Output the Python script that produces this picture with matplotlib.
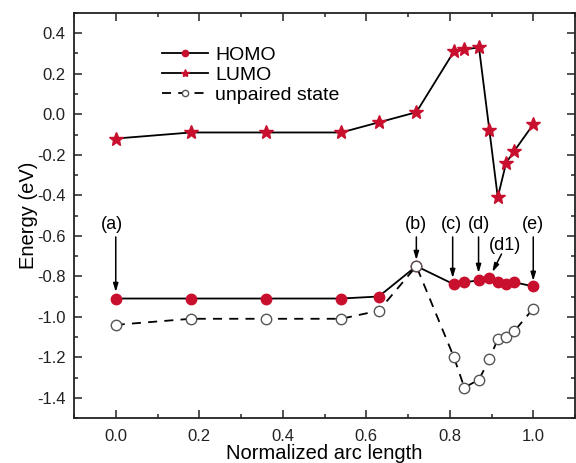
import matplotlib
matplotlib.use("Agg")
import matplotlib.pyplot as plt
from matplotlib.ticker import MultipleLocator

plt.rcParams['font.family'] = ['Liberation Sans', 'DejaVu Sans']

# Normalized arc length along the path
arc = [0.0, 0.18, 0.36, 0.54, 0.63, 0.72, 0.81, 0.835, 0.87, 0.895, 0.915, 0.935, 0.955, 1.0]

# Energies (eV)
homo = [-0.91, -0.91, -0.91, -0.91, -0.90, -0.75, -0.84, -0.83, -0.82, -0.81, -0.83, -0.84, -0.83, -0.85]
lumo = [-0.12, -0.09, -0.09, -0.09, -0.04, 0.01, 0.31, 0.32, 0.33, -0.08, -0.41, -0.24, -0.18, -0.05]
unpaired = [-1.04, -1.01, -1.01, -1.01, -0.97, -0.75, -1.20, -1.35, -1.31, -1.21, -1.11, -1.10, -1.07, -0.96]

# Labelled configurations: (label, text position, arrow tip)
labels = ["(a)", "(b)", "(c)", "(d)", "(e)", "(d1)"]
label_xy = [(-0.01, -0.545), (0.72, -0.545), (0.805, -0.545), (0.87, -0.545), (1.0, -0.545), (0.932, -0.65)]
arrow_tip = [(0.0, -0.878), (0.72, -0.72), (0.807, -0.809), (0.869, -0.784), (1.0, -0.823), (0.902, -0.779)]
arrow_start = [(0.0, -0.606), (0.72, -0.606), (0.807, -0.606), (0.869, -0.606), (1.0, -0.606), (0.924, -0.69)]

red = '#c8102e'

fig = plt.figure(figsize=(5.76, 4.63), dpi=100)
ax = fig.add_axes([74 / 576, 1 - 418 / 463, 501 / 576, 405 / 463])

ax.plot(arc, homo, color='black', lw=1.3, marker='o', ms=7.5, mfc=red, mec=red,
        label='HOMO', zorder=3)
ax.plot(arc, lumo, color='black', lw=1.3, marker='*', ms=10, mfc=red, mec=red,
        label='LUMO', zorder=3)
ax.plot(arc, unpaired, color='black', lw=1.3, ls=(0, (5, 4)), marker='o', ms=7.5,
        mfc='white', mec='#555555', mew=1.0, label='unpaired state', zorder=4)

for lab, txy, tip, start in zip(labels, label_xy, arrow_tip, arrow_start):
    ax.text(txy[0], txy[1], lab, ha='center', va='center', fontsize=13)
    ax.annotate('', xy=tip, xytext=start,
                arrowprops=dict(arrowstyle='-|>,head_length=0.5,head_width=0.15',
                                color='black', lw=1.1, shrinkA=0, shrinkB=0))

ax.set_xlim(-0.1, 1.1)
ax.set_ylim(-1.5, 0.5)
ax.xaxis.set_major_locator(MultipleLocator(0.2))
ax.xaxis.set_minor_locator(MultipleLocator(0.1))
ax.yaxis.set_major_locator(MultipleLocator(0.2))
ax.yaxis.set_minor_locator(MultipleLocator(0.1))
ax.set_xticks([0.0, 0.2, 0.4, 0.6, 0.8, 1.0])
ax.tick_params(which='both', direction='in', top=True, right=True, labelsize=12,
               width=1.1, colors='#222222')
ax.tick_params(which='major', length=6)
ax.tick_params(which='minor', length=3)
ax.tick_params(axis='x', pad=8)
ax.tick_params(axis='y', pad=6)
ax.xaxis.set_major_formatter(plt.FormatStrFormatter('%.1f'))
ax.yaxis.set_major_formatter(plt.FormatStrFormatter('%.1f'))
for s in ax.spines.values():
    s.set_linewidth(1.3)
    s.set_color('#222222')

ax.set_xlabel('Normalized arc length', fontsize=14.5, labelpad=0)
ax.set_ylabel('Energy (eV)', fontsize=14.5, labelpad=-1)

leg = ax.legend(loc='upper left', bbox_to_anchor=(0.175, 0.918), frameon=False,
                fontsize=14, handlelength=2.4, handletextpad=0.35, labelspacing=0.13,
                borderpad=0, borderaxespad=0, markerscale=0.6)

fig.savefig('out.png', dpi=100)
